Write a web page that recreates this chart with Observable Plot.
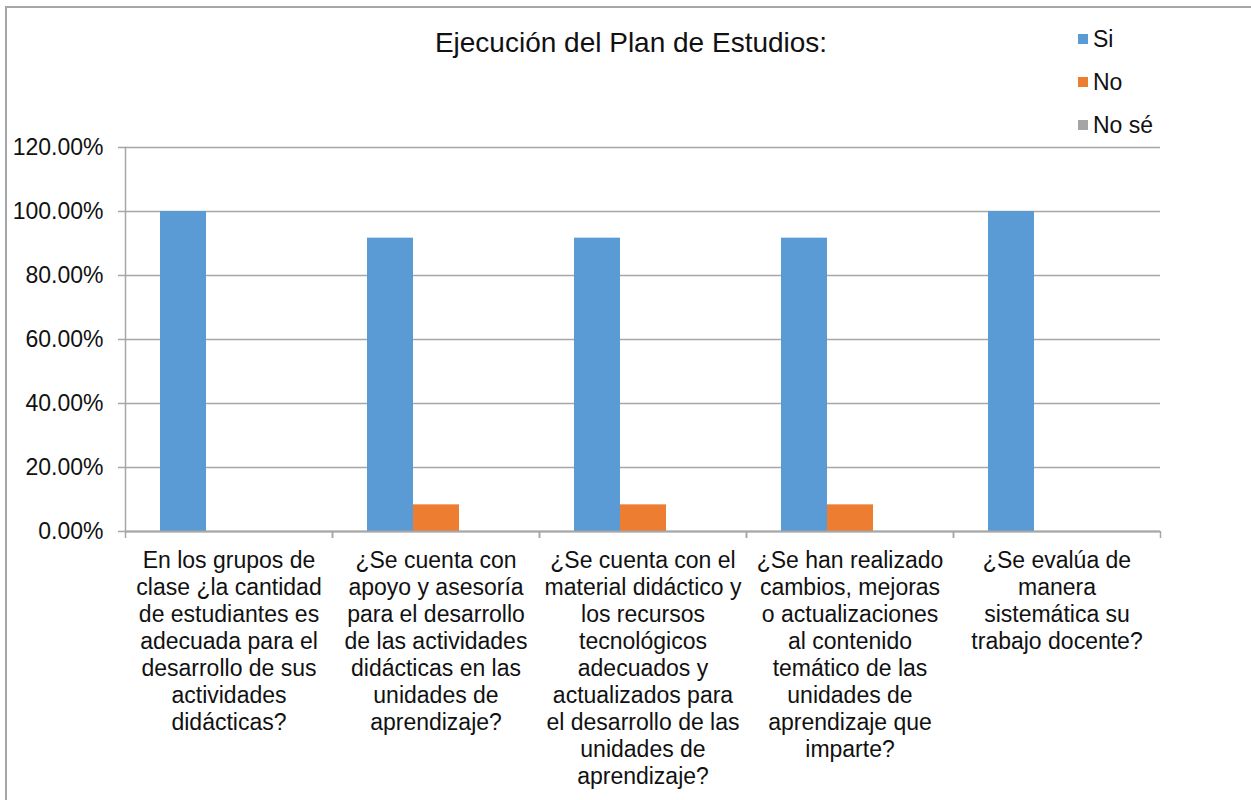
<!DOCTYPE html>
<html>
<head>
<meta charset="utf-8">
<script src="https://cdn.jsdelivr.net/npm/d3@7"></script>
<script src="https://cdn.jsdelivr.net/npm/@observablehq/plot@0.6"></script>
<style>
  html, body { margin: 0; padding: 0; background: #fff; }
  body { width: 1251px; height: 800px; overflow: hidden; position: relative;
         font-family: "Liberation Sans", Arial, sans-serif; color: #111; }
  #border { position: absolute; left: 5px; top: 6px; width: 1300px; height: 900px;
            border: 2px solid #a6a6a6; box-sizing: border-box; pointer-events: none; }
  #header { position: relative; height: 135px; }
  #title { position: absolute; left: 0; width: 1262px; top: 29px; text-align: center;
           font-size: 28px; line-height: 1; }
  .leg { position: absolute; left: 1078px; font-size: 23px; line-height: 1; white-space: nowrap; }
  .leg .sw { position: absolute; left: 0; width: 10px; height: 10px; }
  .leg .lb { position: absolute; left: 15px; top: 0; }
  #chart { position: relative; }
</style>
</head>
<body>
<div id="header">
  <div id="title">Ejecución del Plan de Estudios:</div>
  <div id="legend"></div>
</div>
<div id="chart"></div>
<div id="border"></div>
<script>
// ---- data ----
const categories = [
  "En los grupos de clase ¿la cantidad de estudiantes es adecuada para el desarrollo de sus actividades didácticas?",
  "¿Se cuenta con apoyo y asesoría para el desarrollo de las actividades didácticas en las unidades de aprendizaje?",
  "¿Se cuenta con el material didáctico y los recursos tecnológicos adecuados y actualizados para el desarrollo de las unidades de aprendizaje?",
  "¿Se han realizado cambios, mejoras o actualizaciones al contenido temático de las unidades de aprendizaje que imparte?",
  "¿Se evalúa de manera sistemática su trabajo docente?"
];
const tickLabels = [
  "En los grupos de\nclase ¿la cantidad\nde estudiantes es\nadecuada para el\ndesarrollo de sus\nactividades\ndidácticas?",
  "¿Se cuenta con\napoyo y asesoría\npara el desarrollo\nde las actividades\ndidácticas en las\nunidades de\naprendizaje?",
  "¿Se cuenta con el\nmaterial didáctico y\nlos recursos\ntecnológicos\nadecuados y\nactualizados para\nel desarrollo de las\nunidades de\naprendizaje?",
  "¿Se han realizado\ncambios, mejoras\no actualizaciones\nal contenido\ntemático de las\nunidades de\naprendizaje que\nimparte?",
  "¿Se evalúa de\nmanera\nsistemática su\ntrabajo docente?"
];
const seriesNames = ["Si", "No", "No sé"];
const seriesColors = ["#5B9BD5", "#ED7D31", "#A5A5A5"];
const siValues   = [1.0, 0.9167, 0.9167, 0.9167, 1.0];
const noValues   = [0.0, 0.0833, 0.0833, 0.0833, 0.0];
const noseValues = [0.0, 0.0, 0.0, 0.0, 0.0];
const yTicks = [0, 0.2, 0.4, 0.6, 0.8, 1.0, 1.2];

// ---- table ----
const seriesValues = [siValues, noValues, noseValues];
const rows = [];
categories.forEach((c, i) => {
  seriesNames.forEach((s, j) => rows.push({category: c, series: s, value: seriesValues[j][i]}));
});

// ---- legend ----
const legend = document.getElementById("legend");
seriesNames.forEach((s, j) => {
  const d = document.createElement("div");
  d.className = "leg";
  d.style.top = (28 + j * 43) + "px";
  d.innerHTML = `<span class="sw" style="background:${seriesColors[j]};top:6px"></span><span class="lb">${s}</span>`;
  legend.appendChild(d);
});

// ---- chart ----
const W = 1251, mL = 125, mR = 91;
const step = (W - mL - mR) / categories.length;
const gray = "#a6a6a6";
const fontFamily = "Liberation Sans, Arial, sans-serif";
const labelOf = d => tickLabels[categories.indexOf(d)];

const chart = Plot.plot({
  width: W,
  height: 665,
  marginLeft: mL,
  marginRight: mR,
  marginTop: 12,
  marginBottom: 269,
  style: {fontFamily, fontSize: "23px", color: "#111", background: "transparent", overflow: "visible"},
  fx: {domain: categories, padding: 0, axis: null},
  x: {domain: seriesNames, paddingInner: 0, paddingOuter: 0.75, axis: null},
  y: {domain: [0, 1.2], axis: null},
  color: {domain: seriesNames, range: seriesColors},
  marks: [
    Plot.gridY(yTicks, {stroke: gray, strokeOpacity: 1, strokeWidth: 1.5}),
    Plot.axisY({ticks: yTicks, tickSize: 7, tickPadding: 15, stroke: gray, strokeWidth: 1.5,
      tickFormat: d => (d * 100).toFixed(2) + "%", fontSize: 23, fill: "#111", label: null}),
    Plot.frame({anchor: "left", facetAnchor: "left", stroke: gray, strokeWidth: 1.5}),
    Plot.barY(rows, {fx: "category", x: "series", y: "value", fill: "series"}),
    Plot.ruleY([0], {stroke: gray, strokeWidth: 2}),
    Plot.axisFx({anchor: "bottom", tickSize: 7, tickPadding: 0, dx: -step / 2, stroke: gray, strokeWidth: 1.5,
      tickFormat: () => "", label: null}),
    Plot.axisFx([categories[categories.length - 1]], {anchor: "bottom", tickSize: 7, tickPadding: 0, dx: step / 2,
      stroke: gray, strokeWidth: 1.5, tickFormat: () => "", label: null}),
    Plot.axisFx({anchor: "bottom", tickSize: 0, tickPadding: 17, tickFormat: labelOf, fontSize: 23, fill: "#111",
      lineHeight: 27 / 23, label: null})
  ]
});
document.getElementById("chart").appendChild(chart);
</script>
</body>
</html>
